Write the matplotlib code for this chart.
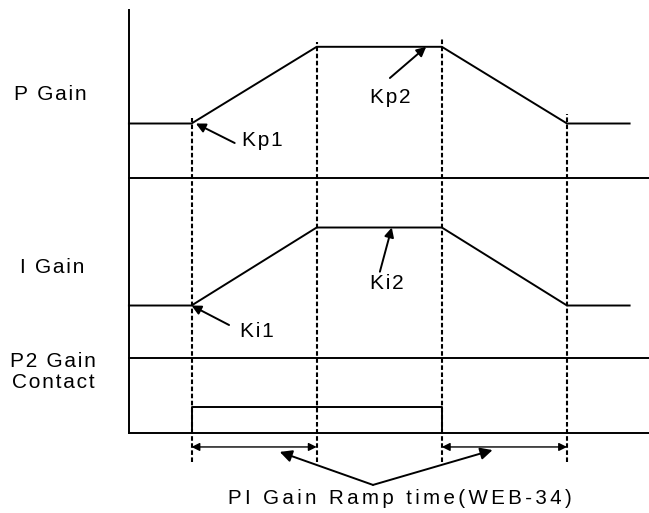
import matplotlib.pyplot as plt

# time points (ramp start / end) and gain levels
t_pts = [0, 1, 3, 5, 7, 8]
p_gain = [11.9, 11.9, 14.85, 14.85, 11.9, 11.9]
i_gain = [4.9, 4.9, 7.9, 7.9, 4.9, 4.9]
contact_t = [1, 1, 5, 5]
contact_v = [0, 1, 1, 0]
dash_t = [1, 3, 5, 7]
dash_top = [12.1, 15.05, 15.2, 12.25]
separators = [0, 2.9, 9.8]
ramp_spans = [(1, 3), (5, 7)]
lane_labels = ["P Gain", "I Gain", "P2 Gain", "Contact"]
lane_label_pos = [(-1.84, 12.81), (-1.74, 6.15), (-1.9, 2.54), (-1.87, 1.73)]

# (label, text position, arrow tail, arrow head)
gain_notes = [
    ("Kp1", (1.8, 11.04), (1.69, 11.15), (1.07, 11.9)),
    ("Kp2", (3.85, 12.69), (4.17, 13.65), (4.75, 14.85)),
    ("Ki1", (1.77, 3.69), (1.6, 4.15), (1.0, 4.9)),
    ("Ki2", (3.85, 5.54), (4.01, 6.2), (4.2, 7.9)),
]

FONT = ["Liberation Sans", "DejaVu Sans"]


def spaced(s, gap="\u200a"):
    return gap.join(s)


fig = plt.figure(figsize=(6.49, 5.13), dpi=100)
ax = fig.add_axes([0, 0, 1, 1])
ax.set_xlim(-2.06, 8.31)
ax.set_ylim(-3.08, 16.65)
ax.axis("off")

lw = 1.4
# vertical axis
ax.plot([0, 0], [0, 16.27], color="black", lw=lw)
for y in separators:
    ax.plot([0, 8.31], [y, y], color="black", lw=lw)

ax.plot(t_pts, p_gain, color="black", lw=lw)
ax.plot(t_pts, i_gain, color="black", lw=lw)
ax.plot(contact_t, contact_v, color="black", lw=lw)

for t, top in zip(dash_t, dash_top):
    ax.plot([t, t], [-1.12, top], color="black", lw=1.5, dashes=(2.2, 1.2))

for a, b in ramp_spans:
    ax.annotate("", xy=(a, -0.54), xytext=(b, -0.54),
                arrowprops=dict(arrowstyle="<|-|>", color="black", lw=1.0,
                                shrinkA=0, shrinkB=0, mutation_scale=12))

for lab, pos in zip(lane_labels, lane_label_pos):
    ax.text(pos[0], pos[1], spaced(lab), ha="left", va="baseline",
            fontsize=15, family=FONT)

for lab, pos, tail, head in gain_notes:
    ax.text(pos[0], pos[1], spaced(lab), ha="left", va="baseline",
            fontsize=15, family=FONT)
    ax.annotate("", xy=head, xytext=tail,
                arrowprops=dict(arrowstyle="-|>", color="black", lw=1.4,
                                shrinkA=0, shrinkB=0, mutation_scale=14))

# ramp time callout
apex = (3.9, -2.0)
for head in [(2.41, -0.73), (5.81, -0.66)]:
    ax.annotate("", xy=head, xytext=apex,
                arrowprops=dict(arrowstyle="-|>", color="black", lw=1.4,
                                shrinkA=0, shrinkB=0, mutation_scale=18))
ax.text(1.58, -2.73, spaced("PI Gain Ramp time(WEB-34)", "\u2006"), ha="left",
        va="baseline", fontsize=14.8, family=FONT)

fig.savefig("out.png", dpi=100)
